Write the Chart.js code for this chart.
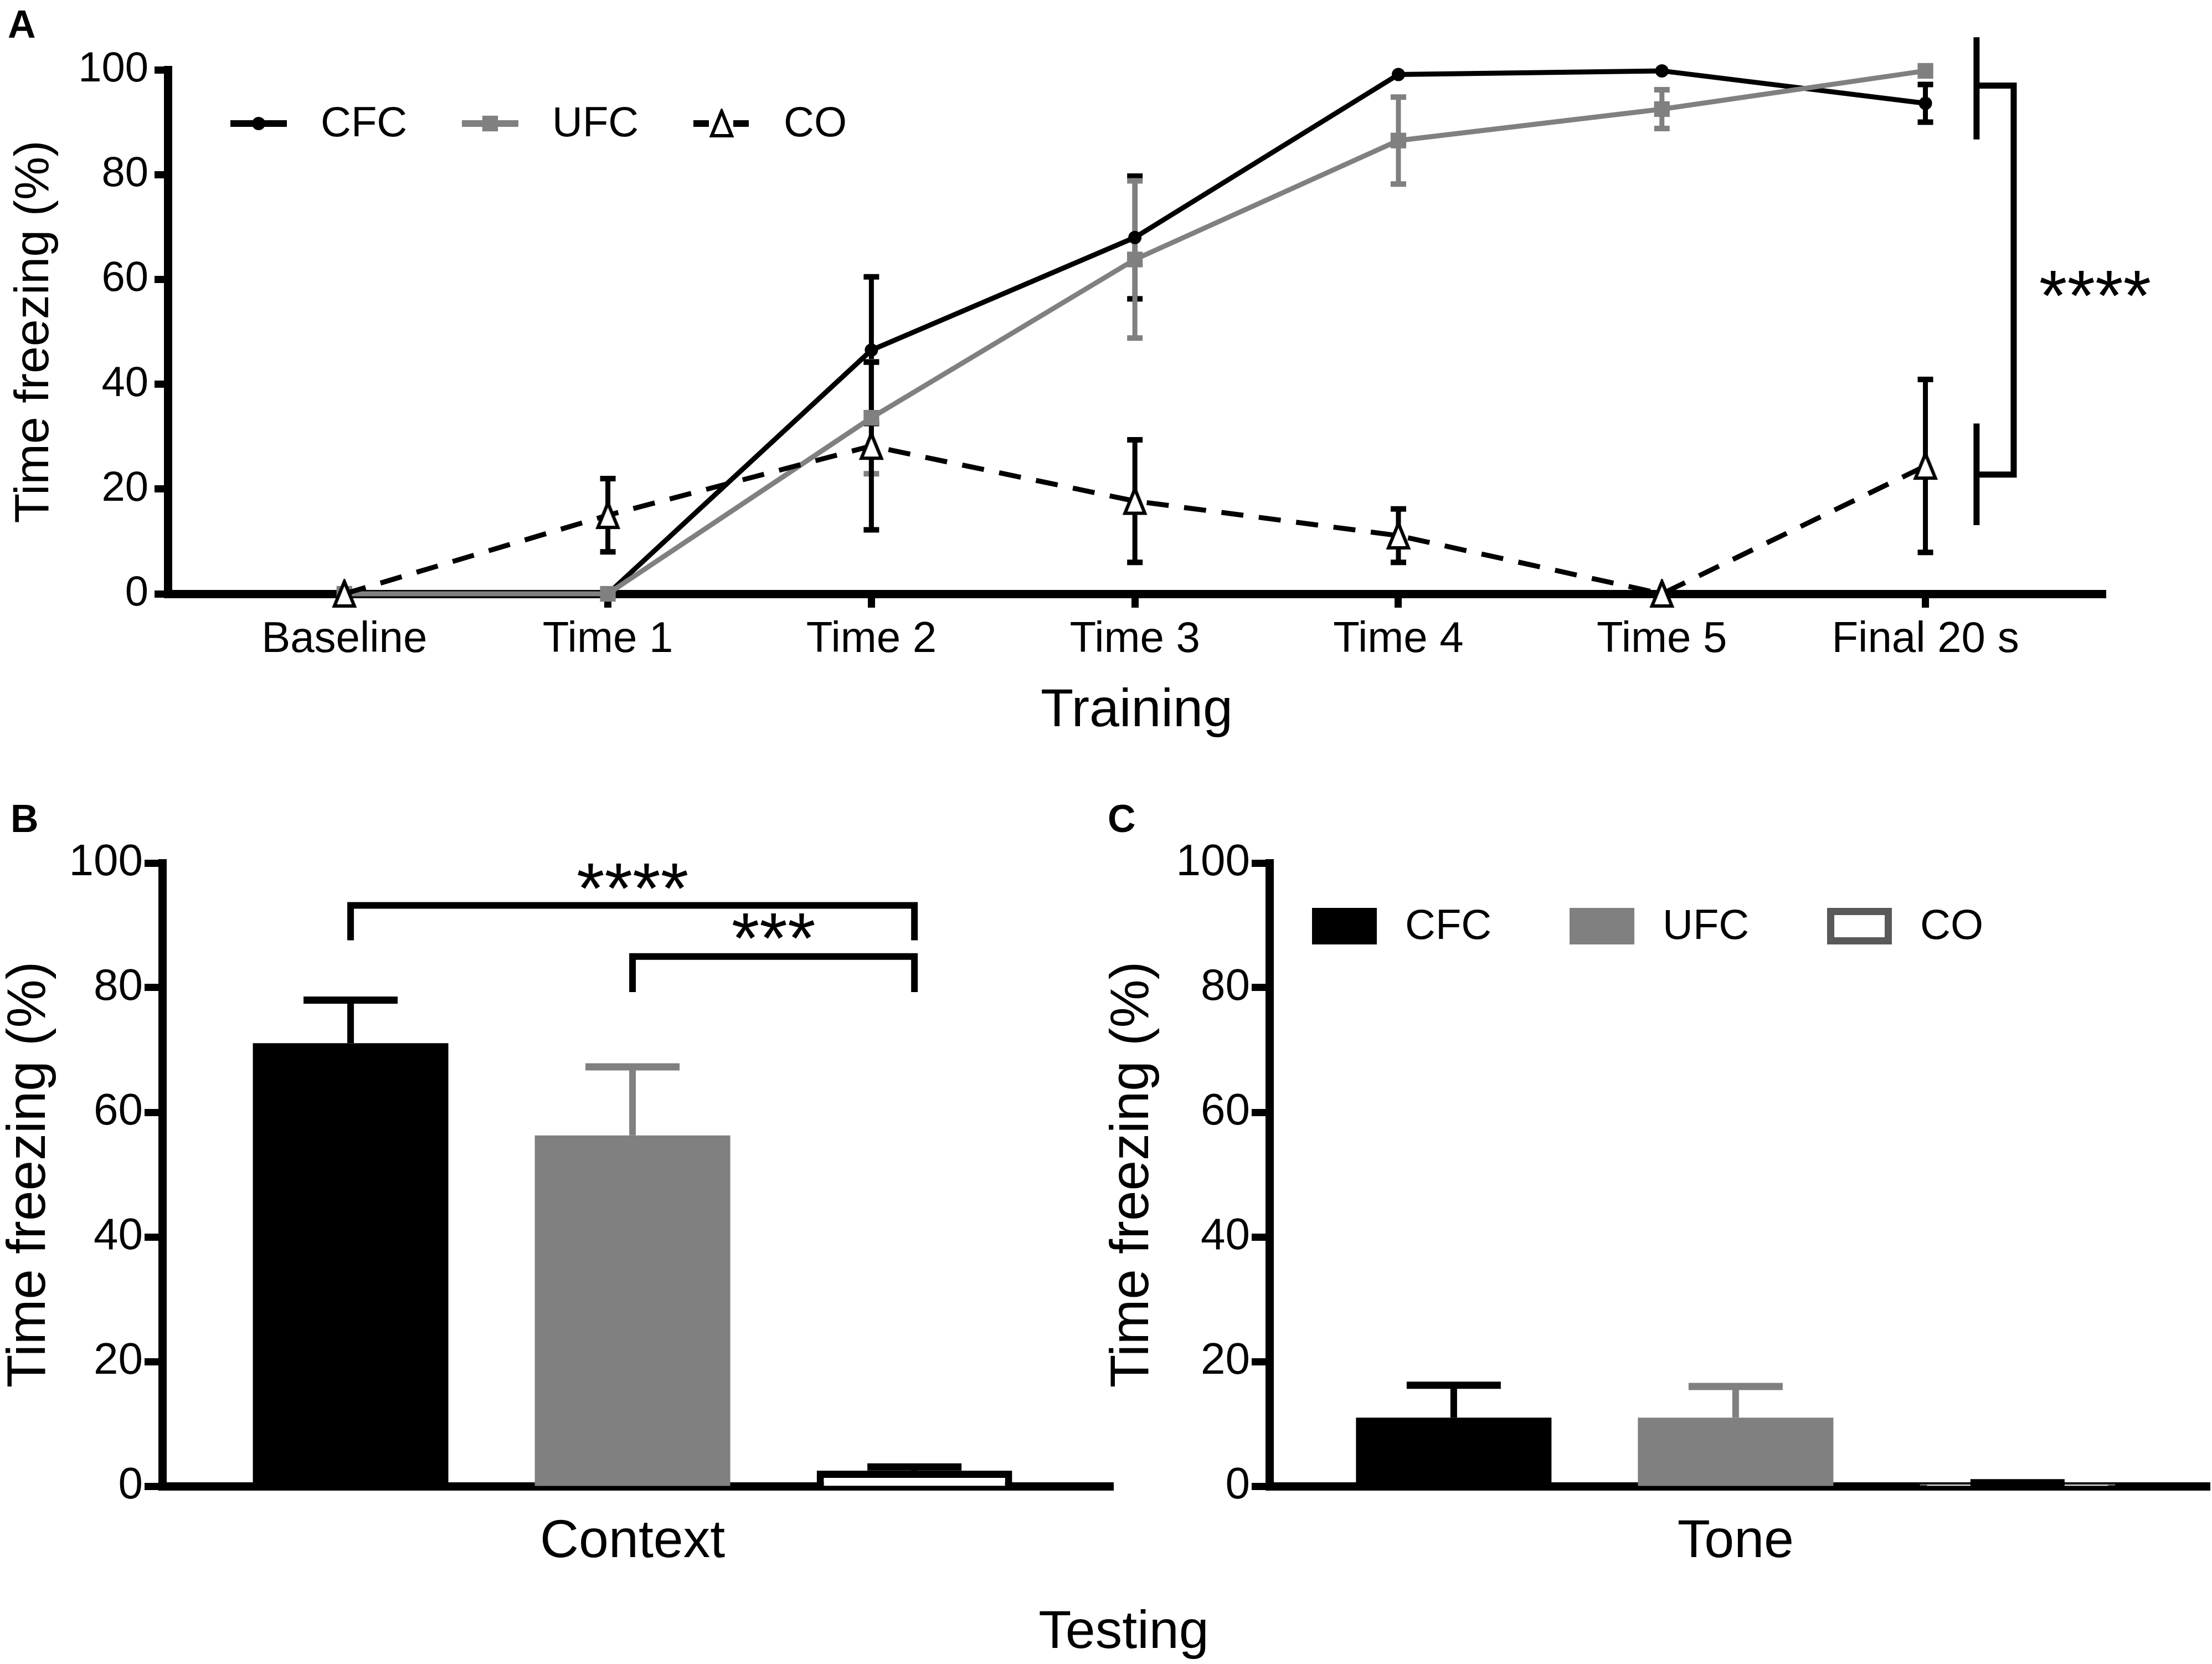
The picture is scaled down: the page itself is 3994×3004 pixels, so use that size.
<!DOCTYPE html>
<html>
<head>
<meta charset="utf-8">
<title>Time freezing: training and testing</title>
<script src="https://cdn.jsdelivr.net/npm/chart.js@4.4.1/dist/chart.umd.min.js"></script>
<style>
  html, body { margin: 0; padding: 0; background: #fff; }
  body { width: 3994px; height: 3004px; position: relative; overflow: hidden; }
  canvas { position: absolute; }
  #chartA { left: 0; top: 0; }
  #chartB { left: 0; top: 1400px; }
  #chartC { left: 1960px; top: 1400px; }
  #testing {
    position: absolute; left: 2029px; top: 2893px; transform: translateX(-50%);
    font: 97px "Liberation Sans", Arial, sans-serif; line-height: 1; color: #000; white-space: nowrap;
  }
</style>
</head>
<body>
<canvas id="chartA" width="3994" height="1400"></canvas>
<canvas id="chartB" width="2040" height="1604"></canvas>
<canvas id="chartC" width="2034" height="1604"></canvas>
<div id="testing">Testing</div>
<script>
// --- data ---
const phases = ['Baseline', 'Time 1', 'Time 2', 'Time 3', 'Time 4', 'Time 5', 'Final 20 s'];
const groups = ['CFC', 'UFC', 'CO'];
const yTicks = [0, 20, 40, 60, 80, 100];

// training (A): mean and SEM of % time freezing
const cfcTrain    = [0, 0, 46.5, 68.0, 99.1, 99.8, 93.6];
const cfcTrainErr = [0, 0, 14.0, 11.7, 0, 0, 3.6];
const ufcTrain    = [0, 0, 33.6, 63.8, 86.5, 92.5, 99.8];
const ufcTrainErr = [0, 0, 10.7, 15.0, 8.3, 3.7, 0];
const coTrain     = [0, 15.0, 28.2, 17.7, 11.1, 0, 24.4];
const coTrainErr  = [0, 7.0, 16.0, 11.7, 5.1, 0, 16.5];

// testing (B, C), same order as groups
const contextMean = [71.1, 56.3, 2.5];
const contextErr  = [6.9, 11.0, 0.6];
const toneMean    = [11.0, 11.0, 0.4];
const toneErr     = [5.2, 5.0, 0.15];

const BLACK = '#000000';
const GREY = '#808080';
const DARK = '#595959';
const FONT = '"Liberation Sans", Arial, sans-serif';

Chart.defaults.font.family = FONT;
Chart.defaults.color = BLACK;

// open triangle marker, a bit taller than the built-in one
const triangle = document.createElement('canvas');
triangle.width = 46;
triangle.height = 54;
(function () {
  const c = triangle.getContext('2d');
  c.beginPath();
  c.moveTo(23, 5);
  c.lineTo(41, 49);
  c.lineTo(5, 49);
  c.closePath();
  c.fillStyle = '#fff';
  c.fill();
  c.lineWidth = 6;
  c.lineJoin = 'miter';
  c.strokeStyle = BLACK;
  c.stroke();
})();

function axisCommon(tickLength) {
  return {
    grid: { display: true, drawOnChartArea: false, drawTicks: tickLength > 0, tickLength: tickLength, tickWidth: 13, tickColor: BLACK },
    border: { display: true, width: 15, color: BLACK }
  };
}

// --- shared plugins ---
const panelLabel = {
  id: 'panelLabel',
  afterDraw(chart, args, opts) {
    const ctx = chart.ctx;
    ctx.save();
    ctx.font = 'bold 70px ' + FONT;
    ctx.fillStyle = BLACK;
    ctx.textBaseline = 'alphabetic';
    ctx.fillText(opts.text, opts.x, opts.y);
    ctx.restore();
  }
};

function drawStars(ctx, text, x, yCenter, size) {
  ctx.font = size + 'px ' + FONT;
  ctx.textAlign = 'center';
  ctx.textBaseline = 'alphabetic';
  ctx.fillStyle = BLACK;
  ctx.fillText(text, x, yCenter + 0.49 * size);
}

// error bars for line points (both directions)
const lineErrors = {
  id: 'lineErrors',
  beforeDatasetsDraw(chart) {
    const ctx = chart.ctx;
    const y = chart.scales.y;
    chart.data.datasets.forEach((ds, d) => {
      const meta = chart.getDatasetMeta(d);
      ctx.save();
      ctx.strokeStyle = ds.errorColor;
      ctx.lineCap = 'butt';
      meta.data.forEach((pt, i) => {
        const e = ds.errors[i];
        if (!e) return;
        const m = ds.data[i].y;
        const yTop = y.getPixelForValue(m + e);
        const yBot = y.getPixelForValue(m - e);
        ctx.lineWidth = 9;
        ctx.beginPath();
        ctx.moveTo(pt.x, yTop);
        ctx.lineTo(pt.x, yBot);
        ctx.stroke();
        ctx.lineWidth = 10;
        ctx.beginPath();
        ctx.moveTo(pt.x - 14, yTop);
        ctx.lineTo(pt.x + 14, yTop);
        ctx.moveTo(pt.x - 14, yBot);
        ctx.lineTo(pt.x + 14, yBot);
        ctx.stroke();
      });
      ctx.restore();
    });
  }
};

// error bars on top of bars (upward only)
const barErrors = {
  id: 'barErrors',
  afterDatasetsDraw(chart) {
    const ctx = chart.ctx;
    const y = chart.scales.y;
    const ds = chart.data.datasets[0];
    chart.getDatasetMeta(0).data.forEach((bar, i) => {
      const yCap = y.getPixelForValue(ds.data[i].y + ds.errors[i]);
      ctx.save();
      ctx.strokeStyle = ds.errorColor[i];
      ctx.lineWidth = 12;
      ctx.beginPath();
      ctx.moveTo(bar.x, bar.y);
      ctx.lineTo(bar.x, yCap);
      ctx.stroke();
      ctx.lineWidth = 13;
      ctx.beginPath();
      ctx.moveTo(bar.x - 85, yCap);
      ctx.lineTo(bar.x + 85, yCap);
      ctx.stroke();
      ctx.restore();
    });
  }
};

// --- A: training ---
const lineLegend = {
  id: 'lineLegend',
  afterDraw(chart) {
    const ctx = chart.ctx;
    const area = chart.chartArea;
    const yc = area.top + 97;
    chart.data.datasets.forEach((ds, i) => {
      const x0 = area.left + 113 + i * 418;
      const xm = x0 + 51;
      ctx.save();
      ctx.strokeStyle = ds.borderColor;
      ctx.lineWidth = 12;
      ctx.setLineDash(ds.borderDash ? [28, 44] : []);
      ctx.beginPath();
      ctx.moveTo(x0, yc);
      ctx.lineTo(x0 + 102, yc);
      ctx.stroke();
      ctx.setLineDash([]);
      ctx.fillStyle = ds.pointBackgroundColor;
      if (ds.pointStyle === 'circle') {
        ctx.beginPath();
        ctx.arc(xm, yc, ds.pointRadius, 0, Math.PI * 2);
        ctx.fill();
      } else if (ds.pointStyle === 'rect') {
        const s = ds.pointRadius * Math.SQRT1_2;
        ctx.fillRect(xm - s, yc - s, 2 * s, 2 * s);
      } else {
        ctx.drawImage(ds.pointStyle, xm - triangle.width / 2, yc - triangle.height / 2);
      }
      ctx.font = '76px ' + FONT;
      ctx.fillStyle = BLACK;
      ctx.textBaseline = 'middle';
      ctx.fillText(ds.label, x0 + 163, yc + 2);
      ctx.restore();
    });
  }
};

const trainingBracket = {
  id: 'trainingBracket',
  afterDraw(chart) {
    const ctx = chart.ctx;
    const x = chart.scales.x;
    const y = chart.scales.y;
    const x1 = x.getPixelForValue(6.194);
    const x2 = x.getPixelForValue(6.335);
    ctx.save();
    ctx.strokeStyle = BLACK;
    ctx.lineWidth = 11;
    ctx.lineJoin = 'miter';
    ctx.beginPath();
    ctx.moveTo(x1, y.getPixelForValue(106.2));
    ctx.lineTo(x1, y.getPixelForValue(86.7));
    ctx.moveTo(x1, y.getPixelForValue(32.5));
    ctx.lineTo(x1, y.getPixelForValue(13.1));
    ctx.stroke();
    ctx.beginPath();
    ctx.moveTo(x1, y.getPixelForValue(97));
    ctx.lineTo(x2, y.getPixelForValue(97));
    ctx.lineTo(x2, y.getPixelForValue(22.75));
    ctx.lineTo(x1, y.getPixelForValue(22.75));
    ctx.stroke();
    drawStars(ctx, '****', x.getPixelForValue(6.644), y.getPixelForValue(58.8), 130);
    ctx.restore();
  }
};

function trainingSeries(label, values, errors, style) {
  return Object.assign({
    label: label,
    data: values.map((v, i) => ({ x: i, y: v })),
    errors: errors,
    clip: false,
    tension: 0,
    fill: false,
    borderWidth: 9,
    pointBorderWidth: 0
  }, style);
}

new Chart(document.getElementById('chartA'), {
  type: 'line',
  data: {
    datasets: [
      trainingSeries('CFC', cfcTrain, cfcTrainErr, {
        borderColor: BLACK, backgroundColor: BLACK, pointStyle: 'circle', pointRadius: 12,
        pointBackgroundColor: BLACK, errorColor: BLACK, order: 2
      }),
      trainingSeries('UFC', ufcTrain, ufcTrainErr, {
        borderColor: GREY, backgroundColor: GREY, pointStyle: 'rect', pointRadius: 20,
        pointBackgroundColor: GREY, errorColor: GREY, order: 1
      }),
      trainingSeries('CO', coTrain, coTrainErr, {
        borderColor: BLACK, backgroundColor: '#fff', borderDash: [40, 28], pointStyle: triangle,
        pointRadius: 22, pointBackgroundColor: '#fff', errorColor: BLACK, order: 0
      })
    ]
  },
  options: {
    responsive: false,
    animation: false,
    devicePixelRatio: 1,
    layout: { padding: { left: 19, right: 192, top: 126, bottom: 67 } },
    plugins: {
      legend: { display: false },
      tooltip: { enabled: false },
      panelLabel: { text: 'A', x: 14, y: 68 }
    },
    scales: {
      x: Object.assign({
        type: 'linear',
        min: -0.67,
        max: 6.684,
        afterBuildTicks: s => { s.ticks = phases.map((_, i) => ({ value: i })); },
        afterFit: s => { s.height = 261; },
        ticks: {
          callback: v => phases[v] ?? '',
          font: { size: 78 },
          color: BLACK,
          padding: 12,
          maxRotation: 0,
          autoSkip: false
        },
        title: { display: true, text: 'Training', font: { size: 97, lineHeight: 1 }, color: BLACK, padding: 0 }
      }, axisCommon(25)),
      y: Object.assign({
        min: 0,
        max: 100,
        afterBuildTicks: s => { s.ticks = yTicks.map(v => ({ value: v })); },
        afterFit: s => { s.width = 284; },
        ticks: { font: { size: 76 }, color: BLACK, padding: 11 },
        title: { display: true, text: 'Time freezing (%)', font: { size: 88, lineHeight: 1 }, color: BLACK, padding: 0 }
      }, axisCommon(24))
    }
  },
  plugins: [lineErrors, lineLegend, trainingBracket, panelLabel]
});

// --- B, C: testing ---
// one dataset, one bar per group, so the library places each bar at its own x
function testingSeries(means, errors, coBorder) {
  return [{
    label: 'Testing',
    data: means.map((v, i) => ({ x: i, y: v })),
    errors: errors,
    backgroundColor: [BLACK, GREY, '#ffffff'],
    borderColor: [BLACK, GREY, coBorder],
    borderWidth: [0, 0, 13],
    errorColor: [BLACK, GREY, BLACK],
    barThickness: 353,
    borderSkipped: 'bottom',
    inflateAmount: 0
  }];
}

function testingOptions(label, letter, pad, yWidth, xMin, xMax) {
  return {
    responsive: false,
    animation: false,
    devicePixelRatio: 1,
    layout: { padding: pad },
    plugins: {
      legend: { display: false },
      tooltip: { enabled: false },
      panelLabel: letter
    },
    scales: {
      x: Object.assign({
        type: 'linear',
        offset: false,
        min: xMin,
        max: xMax,
        afterBuildTicks: s => { s.ticks = [{ value: 1 }]; },
        afterFit: s => { s.height = 200; },
        ticks: { callback: v => (v === 1 ? label : ''), font: { size: 97 }, color: BLACK, padding: 43, maxRotation: 0, autoSkip: false }
      }, axisCommon(0)),
      y: Object.assign({
        min: 0,
        max: 100,
        afterBuildTicks: s => { s.ticks = yTicks.map(v => ({ value: v })); },
        afterFit: s => { s.width = yWidth; },
        ticks: { font: { size: 80 }, color: BLACK, padding: 3 },
        title: { display: true, text: 'Time freezing (%)', font: { size: 98, lineHeight: 1 }, color: BLACK, padding: 0 }
      }, axisCommon(32))
    }
  };
}

const contextBrackets = {
  id: 'contextBrackets',
  afterDraw(chart) {
    const ctx = chart.ctx;
    const x = chart.scales.x;
    const y = chart.scales.y;
    const brackets = [
      { from: 0, to: 2, at: 93.2, leg: 87.6, text: '****', tx: 1.0, ty: 97.6 },
      { from: 1, to: 2, at: 85.0, leg: 79.3, text: '***', tx: 1.5, ty: 89.6 }
    ];
    ctx.save();
    ctx.strokeStyle = BLACK;
    ctx.lineWidth = 12;
    ctx.lineJoin = 'miter';
    brackets.forEach(b => {
      ctx.beginPath();
      ctx.moveTo(x.getPixelForValue(b.from), y.getPixelForValue(b.leg));
      ctx.lineTo(x.getPixelForValue(b.from), y.getPixelForValue(b.at));
      ctx.lineTo(x.getPixelForValue(b.to), y.getPixelForValue(b.at));
      ctx.lineTo(x.getPixelForValue(b.to), y.getPixelForValue(b.leg));
      ctx.stroke();
      drawStars(ctx, b.text, x.getPixelForValue(b.tx), y.getPixelForValue(b.ty), 130);
    });
    ctx.restore();
  }
};

const boxLegend = {
  id: 'boxLegend',
  afterDraw(chart) {
    const ctx = chart.ctx;
    const area = chart.chartArea;
    const ds = chart.data.datasets[0];
    const yc = area.top + 114;
    groups.forEach((g, i) => {
      const x0 = area.left + 77 + i * 465;
      ctx.save();
      ctx.fillStyle = ds.backgroundColor[i];
      ctx.fillRect(x0, yc - 33, 117, 66);
      if (ds.borderWidth[i]) {
        const bw = ds.borderWidth[i];
        ctx.strokeStyle = ds.borderColor[i];
        ctx.lineWidth = bw;
        ctx.strokeRect(x0 + bw / 2, yc - 33 + bw / 2, 117 - bw, 66 - bw);
      }
      ctx.font = '76px ' + FONT;
      ctx.fillStyle = BLACK;
      ctx.textBaseline = 'middle';
      ctx.fillText(g, x0 + 168, yc + 2);
      ctx.restore();
    });
  }
};

new Chart(document.getElementById('chartB'), {
  type: 'bar',
  data: { datasets: testingSeries(contextMean, contextErr, BLACK) },
  options: testingOptions('Context', { text: 'B', x: 19, y: 102 },
    { left: 5, right: 30, top: 158, bottom: 121 }, 288, -0.668, 2.705),
  plugins: [barErrors, contextBrackets, panelLabel]
});

new Chart(document.getElementById('chartC'), {
  type: 'bar',
  data: { datasets: testingSeries(toneMean, toneErr, DARK) },
  options: testingOptions('Tone', { text: 'C', x: 40, y: 102 },
    { left: 37, right: 4, top: 158, bottom: 121 }, 295, -0.654, 2.682),
  plugins: [barErrors, boxLegend, panelLabel]
});
</script>
</body>
</html>
